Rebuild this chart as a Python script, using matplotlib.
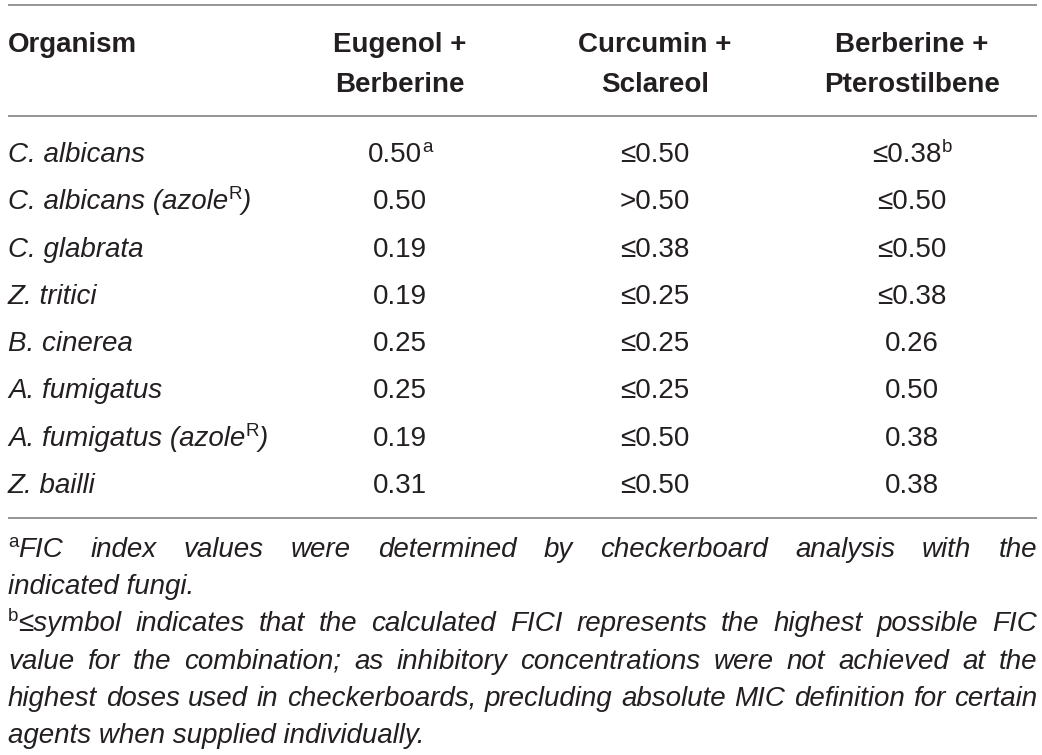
import re
import matplotlib
matplotlib.use("Agg")
import matplotlib.pyplot as plt

# ---------------- data ----------------
col_headers = ["Organism", "Eugenol +\nBerberine", "Curcumin +\nSclareol", "Berberine +\nPterostilbene"]
organisms = ["C. albicans", "C. albicans (azole^R)", "C. glabrata", "Z. tritici",
             "B. cinerea", "A. fumigatus", "A. fumigatus (azole^R)", "Z. bailli"]
eugenol_berberine = ["0.50^a", "0.50", "0.19", "0.19", "0.25", "0.25", "0.19", "0.31"]
curcumin_sclareol = ["≤0.50", ">0.50", "≤0.38", "≤0.25", "≤0.25", "≤0.25", "≤0.50", "≤0.50"]
berberine_pterostilbene = ["≤0.38^b", "≤0.50", "≤0.50", "≤0.38", "0.26", "0.50", "0.38", "0.38"]
footnote_lines = [
    ("^aFIC index values were determined by checkerboard analysis with the", True),
    ("indicated fungi.", False),
    ("^b≤symbol indicates that the calculated FICI represents the highest possible FIC", True),
    ("value for the combination; as inhibitory concentrations were not achieved at the", True),
    ("highest doses used in checkerboards, precluding absolute MIC definition for certain", True),
    ("agents when supplied individually.", False),
]

# ---------------- layout ----------------
W, H = 1042, 755
FONT = "Liberation Sans"
TXT = "#231f20"
RULE = "#8c8c8c"
FS = 20
SUP_FS = 13.5
SUP_RISE = 10

fig = plt.figure(figsize=(W / 100, H / 100), dpi=100)
ax = fig.add_axes([0, 0, 1, 1])
ax.set_xlim(0, W)
ax.set_ylim(H, 0)
ax.axis("off")
renderer = fig.canvas.get_renderer()


def text_width(s, size, weight="normal", style="normal"):
    if not s:
        return 0.0
    t = ax.text(0, 0, "|" + s + "|", fontsize=size, family=FONT, weight=weight, style=style)
    w = t.get_window_extent(renderer).width
    t.remove()
    t = ax.text(0, 0, "||", fontsize=size, family=FONT, weight=weight, style=style)
    w2 = t.get_window_extent(renderer).width
    t.remove()
    return w - w2


def parse(s):
    runs = []
    pos = 0
    for m in re.finditer(r"\^(\w)", s):
        if m.start() > pos:
            runs.append((s[pos:m.start()], False))
        runs.append((m.group(1), True))
        pos = m.end()
    if pos < len(s):
        runs.append((s[pos:], False))
    return runs


def runs_width(runs, size, weight, style):
    tot = 0
    for txt, sup in runs:
        if sup:
            tot += text_width(txt, SUP_FS, weight, "normal")
        else:
            tot += text_width(txt, size, weight, style)
    return tot


def draw_runs(runs, x, y, ha="left", size=FS, weight="normal", style="normal", sup_style="normal"):
    tw = runs_width(runs, size, weight, style)
    if ha == "center":
        x = x - tw / 2
    elif ha == "right":
        x = x - tw
    for txt, sup in runs:
        if sup:
            ax.text(x, y - SUP_RISE, txt, fontsize=SUP_FS, family=FONT, weight=weight,
                    style=sup_style, color=TXT, va="baseline", ha="left")
            x += text_width(txt, SUP_FS, weight, sup_style)
        else:
            ax.text(x, y, txt, fontsize=size, family=FONT, weight=weight,
                    style=style, color=TXT, va="baseline", ha="left")
            x += text_width(txt, size, weight, style)


X0, X1 = 8, 1037
col_x = [X0, 400, 655, 912]

# rules
for yy in (5, 116, 518):
    ax.plot([X0, X1], [yy, yy], color=RULE, lw=1.3, solid_capstyle="butt")

# header
header_base = [52, 92]
for j, h in enumerate(col_headers):
    for k, line in enumerate(h.split("\n")):
        ha = "left" if j == 0 else "center"
        draw_runs([(line, False)], col_x[j], header_base[k], ha=ha, weight="bold")

# rows
row_base0, row_step = 162, 47.3
columns = [eugenol_berberine, curcumin_sclareol, berberine_pterostilbene]
for i, org in enumerate(organisms):
    y = row_base0 + i * row_step
    draw_runs(parse(org), col_x[0], y, ha="left", style="italic")
    for j, col in enumerate(columns):
        draw_runs(parse(col[i]), col_x[j + 1], y, ha="center")

# footnotes (justified)
foot_base0, foot_step = 557, 37.2
for i, (line, justify) in enumerate(footnote_lines):
    y = foot_base0 + i * foot_step
    words = line.split(" ")
    if not justify:
        draw_runs(parse(line), X0, y, ha="left", style="italic")
        continue
    size = FS
    while True:
        ws = [runs_width(parse(w), size, "normal", "italic") for w in words]
        gap = (X1 - X0 - sum(ws)) / (len(words) - 1)
        if gap > 2 or size < 12:
            break
        size -= 0.25
    x = X0
    for w, wd in zip(words, ws):
        draw_runs(parse(w), x, y, ha="left", size=size, style="italic")
        x += wd + gap

fig.savefig("out.png", dpi=100)
